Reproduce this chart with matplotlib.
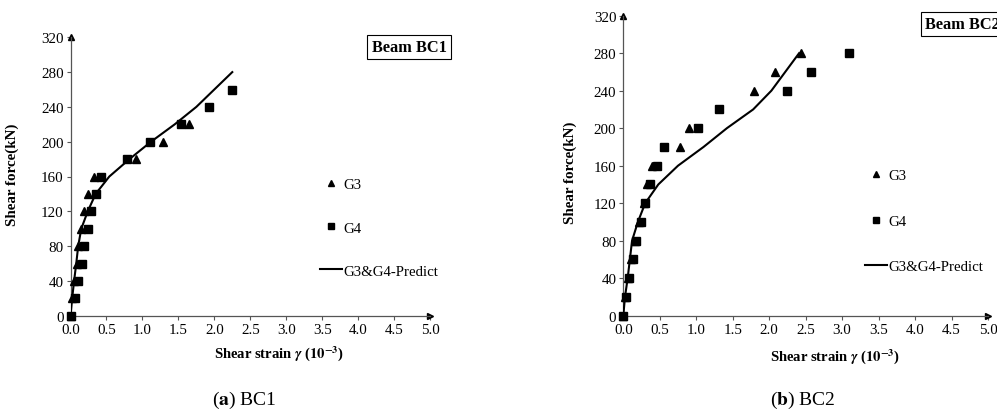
import matplotlib
matplotlib.use("Agg")
import matplotlib.pyplot as plt

plt.rcParams['font.family'] = ['Liberation Serif', 'DejaVu Serif']
plt.rcParams['mathtext.fontset'] = 'stix'

# ---- data: Beam BC1 ----
bc1_g3_x = [0.0, 0.02, 0.046, 0.088, 0.11, 0.15, 0.19, 0.25, 0.325, 0.91, 1.29, 1.65]
bc1_g3_y = [0, 20, 40, 60, 80, 100, 120, 140, 160, 180, 200, 220]
bc1_g4_x = [0.0, 0.065, 0.11, 0.16, 0.19, 0.24, 0.28, 0.35, 0.42, 0.78, 1.10, 1.53, 1.93, 2.25]
bc1_g4_y = [0, 20, 40, 60, 80, 100, 120, 140, 160, 180, 200, 220, 240, 260]
bc1_pred_x = [0.0, 0.023, 0.05, 0.08, 0.107, 0.15, 0.24, 0.35, 0.54, 0.82, 1.12, 1.45, 1.75, 2.0, 2.25]
bc1_pred_y = [0, 20, 40, 60, 80, 100, 120, 140, 160, 180, 200, 220, 240, 260, 280]

# ---- data: Beam BC2 ----
bc2_g3_x = [0.0, 0.03, 0.07, 0.11, 0.16, 0.22, 0.29, 0.32, 0.40, 0.78, 0.90, 1.79, 2.08, 2.44]
bc2_g3_y = [0, 20, 40, 60, 80, 100, 120, 140, 160, 180, 200, 240, 260, 280]
bc2_g4_x = [0.0, 0.04, 0.08, 0.13, 0.18, 0.24, 0.30, 0.37, 0.46, 0.56, 1.02, 1.31, 2.25, 2.58, 3.09]
bc2_g4_y = [0, 20, 40, 60, 80, 100, 120, 140, 160, 180, 200, 220, 240, 260, 280]
bc2_pred_x = [0.0, 0.023, 0.06, 0.09, 0.12, 0.2, 0.3, 0.48, 0.75, 1.1, 1.42, 1.78, 2.03, 2.41]
bc2_pred_y = [0, 20, 40, 60, 80, 100, 120, 140, 160, 180, 200, 220, 240, 280]

xticks = [0.0, 0.5, 1.0, 1.5, 2.0, 2.5, 3.0, 3.5, 4.0, 4.5, 5.0]
yticks = [0, 40, 80, 120, 160, 200, 240, 280, 320]

W, H = 997, 414
fig = plt.figure(figsize=(W / 100, H / 100), dpi=100)


def px_rect(x0, x1, y_bottom, y_top):
    return [x0 / W, 1 - y_bottom / H, (x1 - x0) / W, (y_bottom - y_top) / H]


ax1 = fig.add_axes(px_rect(70.5, 430, 316.7, 38.3))
ax2 = fig.add_axes(px_rect(623.3, 988, 316.7, 16.7))

panels = [
    (ax1, bc1_g3_x, bc1_g3_y, bc1_g4_x, bc1_g4_y, bc1_pred_x, bc1_pred_y, -0.143, 0.51),
    (ax2, bc2_g3_x, bc2_g3_y, bc2_g4_x, bc2_g4_y, bc2_pred_x, bc2_pred_y, -0.127, 0.48),
]

for ax, g3x, g3y, g4x, g4y, px, py, ylx, yly in panels:
    ax.plot(px, py, color='black', lw=1.5, label='G3&G4-Predict', zorder=3)
    ax.plot(g3x, g3y, ls='none', marker='^', ms=5.5, color='black', label='G3',
            clip_on=False, zorder=4)
    ax.plot(g4x, g4y, ls='none', marker='s', ms=5.5, color='black', label='G4',
            clip_on=False, zorder=4)
    ax.set_xlim(0, 5)
    ax.set_ylim(0, 320)
    ax.set_xticks(xticks)
    ax.set_xticklabels([f"{t:.1f}" for t in xticks])
    ax.set_yticks(yticks)
    for s in ['top', 'right']:
        ax.spines[s].set_visible(False)
    for s in ['left', 'bottom']:
        ax.spines[s].set_color('#555555')
        ax.spines[s].set_linewidth(0.9)
    ax.tick_params(direction='out', length=3, width=0.8, color='#555555',
                   labelsize=10.8, pad=2)
    # arrow heads on the axes
    ax.plot(1, 0, marker='>', ms=4, color='black', transform=ax.transAxes, clip_on=False)
    ax.plot(0, 1, marker='^', ms=4, color='black', transform=ax.transAxes, clip_on=False)
    ax.set_ylabel('Shear force(kN)', fontweight='bold', fontsize=10.8)
    ax.yaxis.set_label_coords(ylx, yly)
    ax.set_xlabel(r'Shear strain $\mathbfit{\gamma}$ ($\mathbf{10^{-3}}$)',
                  fontweight='bold', fontsize=10.5)
    ax.xaxis.set_label_coords(0.58, -0.1)

# legends (order: G3, G4, Predict)
for ax, anchor, sp in [(ax1, (320 / W, 1 - 179 / H), 2.0), (ax2, (865 / W, 1 - 170 / H), 2.15)]:
    h, l = ax.get_legend_handles_labels()
    order = [1, 2, 0]
    ax.legend([h[i] for i in order], [l[i] for i in order], loc='upper left',
              bbox_to_anchor=anchor, bbox_transform=fig.transFigure, frameon=False,
              fontsize=10.7, handlelength=1.5, handletextpad=0.1, labelspacing=sp,
              borderpad=0, borderaxespad=0, markerscale=0.8)

box = dict(boxstyle='square,pad=0.25', facecolor='white', edgecolor='black', lw=0.8)
fig.text(409 / W, 1 - 48 / H, 'Beam BC1', ha='center', va='center',
         fontweight='bold', fontsize=11.8, bbox=box)
# the reference crops this box at the right edge of the figure
fig.text(925 / W, 1 - 25 / H, 'Beam BC2', ha='left', va='center',
         fontweight='bold', fontsize=11.8, bbox=box)

fig.text(244 / W, 1 - 400 / H, r'($\mathbf{a}$) BC1', ha='center', va='center', fontsize=14)
fig.text(803 / W, 1 - 400 / H, r'($\mathbf{b}$) BC2', ha='center', va='center', fontsize=14)

fig.savefig('out.png', dpi=100)
